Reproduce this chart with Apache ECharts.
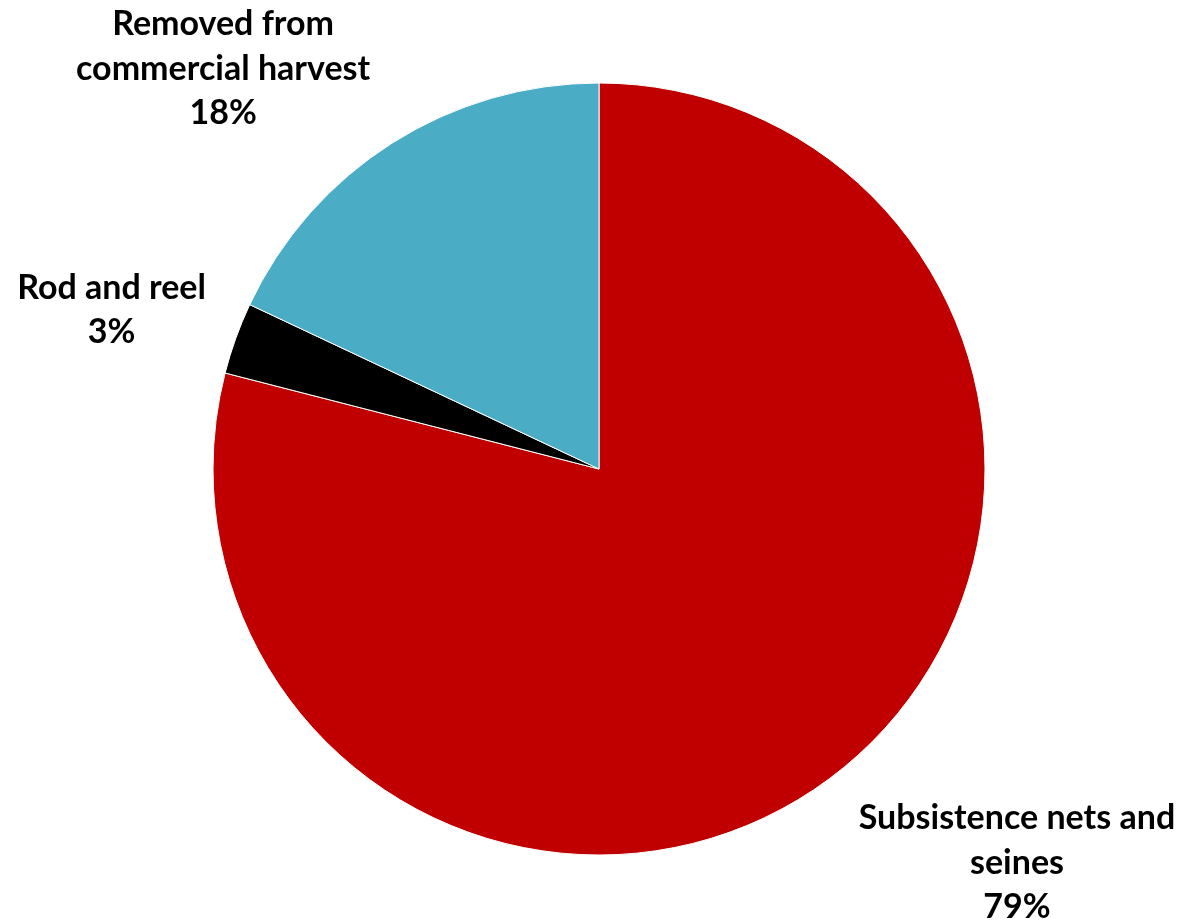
<!DOCTYPE html>
<html>
<head>
<meta charset="utf-8">
<script src="https://cdn.jsdelivr.net/npm/echarts@6/dist/echarts.min.js"></script>
<style>
  html, body { margin: 0; padding: 0; background: #fff; }
  #chart { width: 1184px; height: 922px; }
</style>
</head>
<body>
<div id="chart"></div>
<script>
// Share of harvest by gear type
const categories = ['Subsistence nets and\nseines', 'Rod and reel', 'Removed from\ncommercial harvest'];
const shares = [79, 3, 18];
const colors = ['#C00000', '#000000', '#4BACC6'];

// Per-slice label nudges (pixels) so each label block sits centred beside its slice
const labelShift = [
  { dx: 158, dy: 65 },
  { dx: -91, dy: -18 },
  { dx: -148, dy: -49 }
];

const chart = echarts.init(document.getElementById('chart'));
chart.setOption({
  animation: false,
  series: [{
    type: 'pie',
    center: [599, 469],
    radius: 386,
    startAngle: 90,
    clockwise: true,
    data: categories.map((name, i) => ({
      name: name,
      value: shares[i],
      itemStyle: { color: colors[i] }
    })),
    itemStyle: { borderColor: '#ffffff', borderWidth: 1 },
    label: {
      show: true,
      position: 'outside',
      formatter: '{b}\n{d}%',
      fontFamily: 'Lato, "Open Sans", sans-serif',
      fontWeight: 'bold',
      fontSize: 34,
      lineHeight: 44.5,
      color: '#000',
      align: 'center',
      overflow: 'none'
    },
    labelLine: { show: false, length: 30, length2: 0 },
    labelLayout: function (params) {
      const s = labelShift[params.dataIndex];
      return { dx: s.dx, dy: s.dy, align: 'center' };
    }
  }]
});
</script>
</body>
</html>
